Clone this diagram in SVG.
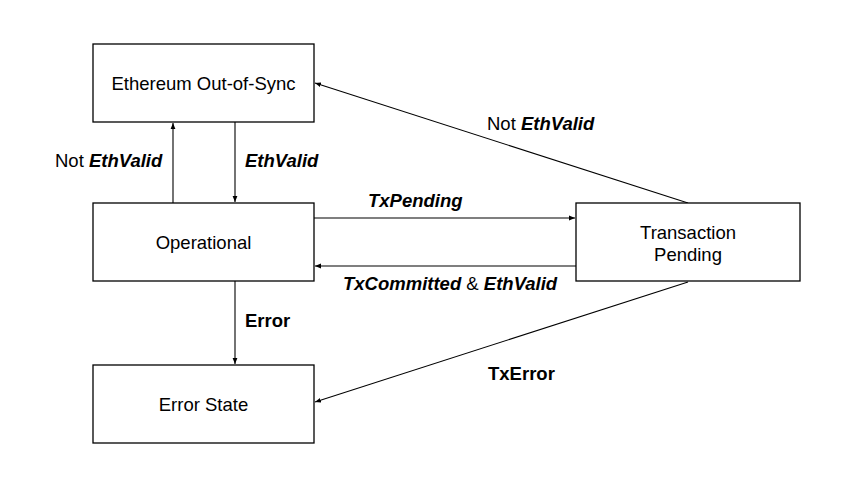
<svg xmlns="http://www.w3.org/2000/svg" width="853" height="483" viewBox="0 0 853 483">
<style>
.box{fill:#fff;stroke:#000;stroke-width:1.3}
.t{font-family:"Liberation Sans",Arial,sans-serif;font-size:18.5px;fill:#000}
.lbl{font-family:"Liberation Sans",Arial,sans-serif;font-size:18.5px;fill:#000}
.b{font-weight:bold}
.bi{font-weight:bold;font-style:italic}
.edge{fill:none;stroke:#000;stroke-width:1.1}
</style>
<defs>
<marker id="ah" viewBox="0 0 10 10" refX="10" refY="5" markerWidth="6" markerHeight="6" markerUnits="userSpaceOnUse" orient="auto">
<path d="M0,1 L10,5 L0,9 Z" fill="#000"/>
</marker>
</defs>
<rect width="853" height="483" fill="#fff"/>
<g id="edges">
<line class="edge" x1="173" y1="203" x2="173" y2="123" marker-end="url(#ah)"/>
<line class="edge" x1="235" y1="122" x2="235" y2="202" marker-end="url(#ah)"/>
<line class="edge" x1="314" y1="218" x2="575" y2="218" marker-end="url(#ah)"/>
<line class="edge" x1="576" y1="266" x2="315" y2="266" marker-end="url(#ah)"/>
<line class="edge" x1="235" y1="281" x2="235" y2="364" marker-end="url(#ah)"/>
<line class="edge" x1="688" y1="203" x2="315" y2="83" marker-end="url(#ah)"/>
<line class="edge" x1="688" y1="282" x2="315" y2="402" marker-end="url(#ah)"/>
<text class="lbl" x="55" y="167">Not <tspan class="bi">EthValid</tspan></text>
<text class="lbl bi" x="245" y="167">EthValid</text>
<text class="lbl bi" x="368" y="207">TxPending</text>
<text class="lbl" x="343" y="290"><tspan class="bi">TxCommitted</tspan> &amp; <tspan class="bi">EthValid</tspan></text>
<text class="lbl b" x="245" y="327">Error</text>
<text class="lbl b" x="488" y="380">TxError</text>
<text class="lbl" x="487" y="130">Not <tspan class="bi">EthValid</tspan></text>
</g>
<g id="eth-out-of-sync">
<rect class="box" x="93" y="44" width="221" height="78"/>
<text class="t" x="203.5" y="89.5" text-anchor="middle">Ethereum Out-of-Sync</text>
</g>
<g id="operational">
<rect class="box" x="93" y="203" width="221" height="78"/>
<text class="t" x="203.5" y="248.5" text-anchor="middle">Operational</text>
</g>
<g id="error-state">
<rect class="box" x="93" y="365" width="221" height="78"/>
<text class="t" x="203.5" y="410.5" text-anchor="middle">Error State</text>
</g>
<g id="transaction-pending">
<rect class="box" x="576" y="203" width="224" height="78"/>
<text class="t" x="688" y="239" text-anchor="middle">Transaction</text>
<text class="t" x="688" y="261" text-anchor="middle">Pending</text>
</g>
</svg>
